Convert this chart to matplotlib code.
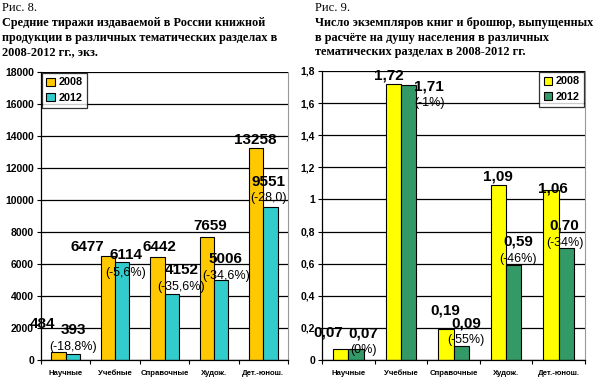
import numpy as np
import matplotlib as mpl
mpl.use("Agg")
from matplotlib import pyplot as plt
from matplotlib.ticker import FixedLocator, FuncFormatter

mpl.rcParams["font.family"] = ["Liberation Sans", "DejaVu Sans"]

categories = ["Научные", "Учебные", "Справочные", "Худож.", "Дет.-юнош."]

# fig. 8: average print run, copies
run_2008 = [484, 6477, 6442, 7659, 13258]
run_2012 = [393, 6114, 4152, 5006, 9551]
run_pct = ["(-18,8%)", "(-5,6%)", "(-35,6%)", "(-34,6%)", "(-28,0)"]

# fig. 9: copies per capita
pc_2008 = [0.07, 1.72, 0.19, 1.09, 1.06]
pc_2012 = [0.07, 1.71, 0.09, 0.59, 0.70]
pc_pct = ["(0%)", "(-1%)", "(-55%)", "(-46%)", "(-34%)"]

title8 = ["Средние тиражи издаваемой в России книжной",
          "продукции в различных тематических разделах в",
          "2008-2012 гг., экз."]
title9 = ["Число экземпляров книг и брошюр, выпущенных",
          "в расчёте на душу населения в различных",
          "тематических разделах в 2008-2012 гг."]

# label placement (x offset from category, y in data units)
run_lab08 = [(-0.46, 2250), (-0.57, 7060), (-0.10, 7060), (-0.08, 8375), (-0.16, 13750)]
run_lab12 = [(0.15, 1875), (0.22, 6560), (0.34, 5625), (0.24, 6310), (0.10, 11125)]
run_labpct = [810, 5440, 4560, 5250, 10125]
pc_lab08 = [(-0.38, 0.174), (-0.23, 1.775), (-0.16, 0.311), (-0.15, 1.14), (-0.11, 1.07)]
pc_lab12 = [(0.29, 0.168), (0.54, 1.706), (0.24, 0.23), (0.23, 0.735), (0.11, 0.84)]
pc_labpct = [0.062, 1.6, 0.125, 0.63, 0.73]

W = 0.29
SERIF = ["Liberation Serif", "DejaVu Serif"]


def draw(ax, v08, v12, c08, c12, ymax, step, lab08, lab12, labpct, pcts, fmt, fmt_tick, legloc):
    x = np.arange(len(categories))
    ax.set_axisbelow(True)
    ax.bar(x - W / 2, v08, W, color=c08, edgecolor="black", linewidth=0.8, label="2008")
    ax.bar(x + W / 2, v12, W, color=c12, edgecolor="black", linewidth=0.8, label="2012")
    ax.set_xlim(-0.5, len(categories) - 0.5)
    ax.set_ylim(0, ymax)
    ticks = np.arange(0, ymax + step / 2, step)
    ax.set_yticks(ticks)
    ax.yaxis.set_major_formatter(FuncFormatter(fmt_tick))
    ax.grid(axis="y", color="black", linewidth=0.9)
    ax.xaxis.set_major_locator(FixedLocator(np.arange(-0.5, len(categories), 1.0)))
    ax.xaxis.set_minor_locator(FixedLocator(x))
    ax.set_xticklabels([])
    ax.set_xticklabels(categories, minor=True)
    ax.tick_params(axis="x", which="major", length=3, width=0.8, direction="out")
    ax.tick_params(axis="x", which="minor", length=0, pad=7, labelsize=5.6)
    ax.tick_params(axis="y", length=3, width=0.8, direction="out", labelsize=7.5, pad=2)
    for lab in ax.get_xticklabels(minor=True) + ax.get_yticklabels():
        lab.set_fontweight("bold")
    ax.spines["top"].set_visible(False)
    ax.spines["right"].set_color("#999999")
    ax.spines["right"].set_linewidth(0.8)
    ax.spines["left"].set_linewidth(0.9)
    ax.spines["bottom"].set_linewidth(0.9)
    for i in range(len(categories)):
        dx, yy = lab08[i]
        ax.text(i + dx, yy, fmt(v08[i]), ha="center", va="center",
                fontsize=11, fontweight="bold")
        dx, yy = lab12[i]
        ax.text(i + dx, yy, fmt(v12[i]), ha="center", va="center",
                fontsize=11, fontweight="bold")
        ax.text(i + dx, labpct[i], pcts[i], ha="center", va="center", fontsize=9)
    leg = ax.legend(loc=legloc, fontsize=7.8, frameon=True, fancybox=False,
                    handlelength=0.8, handleheight=0.8, handletextpad=0.3,
                    borderpad=0.45, labelspacing=0.5, borderaxespad=0.05)
    leg.get_frame().set_edgecolor("black")
    leg.get_frame().set_linewidth(0.9)
    for t in leg.get_texts():
        t.set_fontweight("bold")


fig = plt.figure(figsize=(6, 3.8), dpi=100)
ax1 = fig.add_axes([41 / 600, 20 / 380, 247 / 600, 288 / 380])
ax2 = fig.add_axes([322 / 600, 20 / 380, 263 / 600, 289 / 380])

draw(ax1, run_2008, run_2012, "#FFC800", "#33CCCC", 18000, 2000,
     run_lab08, run_lab12, run_labpct, run_pct,
     lambda v: f"{v}", lambda v, p: f"{int(v)}", "upper left")


def pc_tick(v, p):
    if abs(v - round(v)) < 1e-6:
        return f"{int(round(v))}"
    return f"{v:.1f}".replace(".", ",")


draw(ax2, pc_2008, pc_2012, "#FFFF00", "#339966", 1.8, 0.2,
     pc_lab08, pc_lab12, pc_labpct, pc_pct,
     lambda v: f"{v:.2f}".replace(".", ","), pc_tick, "upper right")

for x0, num, lines in [(2, "Рис. 8.", title8), (315, "Рис. 9.", title9)]:
    fig.text(x0 / 600, 1 - 8 / 380, num, family=SERIF, fontsize=9, va="center")
    for k, line in enumerate(lines):
        fig.text(x0 / 600, 1 - (23 + 14.5 * k) / 380, line, family=SERIF,
                 fontsize=8.8, fontweight="bold", va="center")

fig.savefig("out.png", dpi=100)
